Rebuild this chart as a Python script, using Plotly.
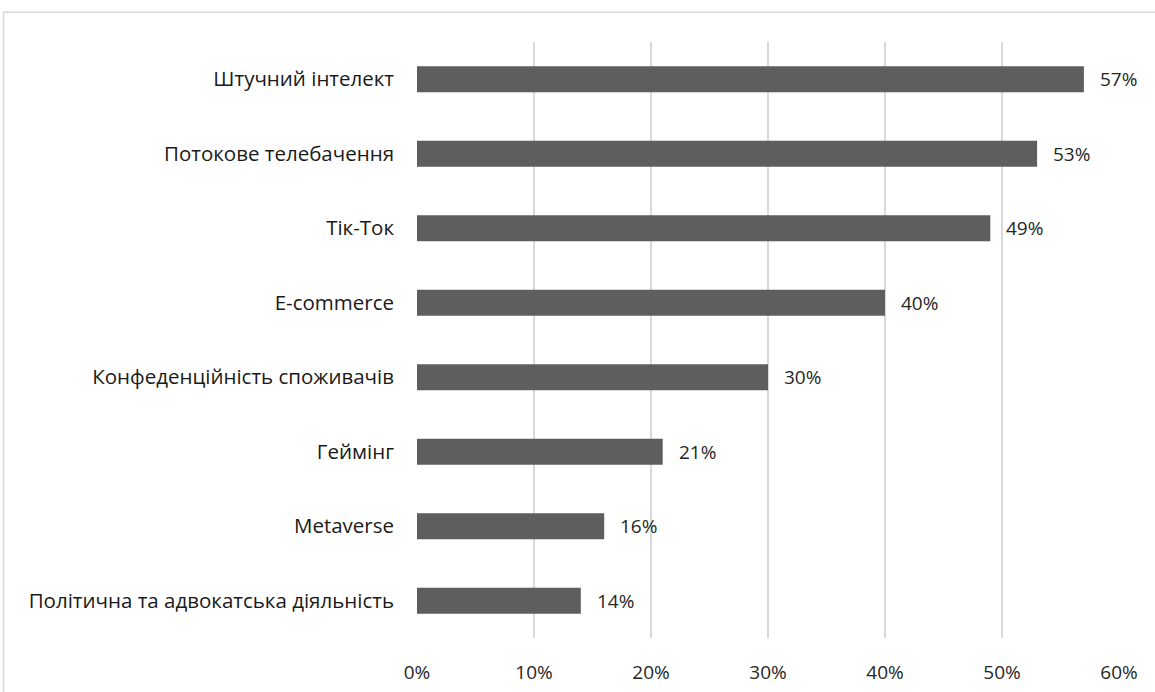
import plotly.graph_objects as go

categories = ["Штучний інтелект", "Потокове телебачення", "Тік-Ток", "E-commerce",
              "Конфеденційність споживачів", "Геймінг", "Metaverse",
              "Політична та адвокатська діяльність"]
values = [0.57, 0.53, 0.49, 0.40, 0.30, 0.21, 0.16, 0.14]
labels = ["57%", "53%", "49%", "40%", "30%", "21%", "16%", "14%"]
tick_vals = [0, 0.1, 0.2, 0.3, 0.4, 0.5, 0.6]
tick_text = ["0%", "10%", "20%", "30%", "40%", "50%", "60%"]

FONT = "'Open Sans', sans-serif"

fig = go.Figure(go.Bar(
    x=values, y=categories, orientation="h",
    marker=dict(color="#5e5e5e", line=dict(width=0)),
    hoverinfo="skip",
))

for c, v, t in zip(categories, values, labels):
    fig.add_annotation(x=v, y=c, text=t, showarrow=False, xanchor="left",
                       xshift=14, font=dict(family=FONT, size=19, color="#262626"))

fig.update_layout(
    width=1155, height=692,
    margin=dict(l=417, r=36, t=42, b=54, autoexpand=False),
    paper_bgcolor="white", plot_bgcolor="white",
    bargap=0.65, showlegend=False,
    font=dict(family=FONT, size=19, color="#1a1a1a"),
    xaxis=dict(range=[0, 0.6], tickvals=tick_vals, ticktext=tick_text,
               showgrid=True, gridcolor="#d9d9d9", gridwidth=1.5, automargin=False,
               zeroline=False, showline=False, ticks="", ticklabelstandoff=21,
               tickfont=dict(family=FONT, size=19, color="#262626")),
    yaxis=dict(autorange="reversed", showgrid=False, zeroline=False, automargin=False,
               showline=False, ticks="", ticklabelstandoff=22,
               tickfont=dict(family=FONT, size=20.5, color="#1a1a1a")),
    shapes=[
        dict(type="line", xref="paper", yref="paper", x0=-0.589, x1=1.06,
             y0=1.05, y1=1.05, line=dict(color="#d9d9d9", width=1.5)),
        dict(type="line", xref="paper", yref="paper", x0=-0.589, x1=-0.589,
             y0=1.05, y1=-0.1, line=dict(color="#d9d9d9", width=1.5)),
    ],
)

fig.write_html("out.html")
